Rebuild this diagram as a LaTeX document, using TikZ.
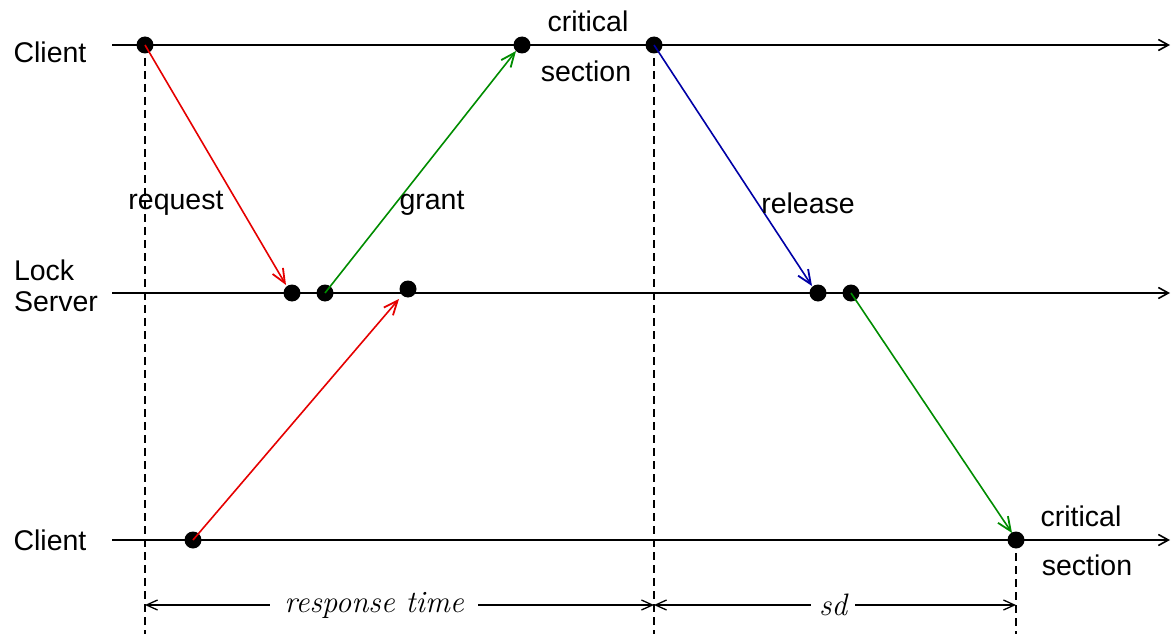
\documentclass[tikz,border=0pt]{standalone}
\usepackage{fontspec}
\setmainfont{Liberation Sans}
\newfontfamily\lmit{Latin Modern Roman}
\usetikzlibrary{arrows.meta}
\begin{document}
\begin{tikzpicture}[x=1pt,y=-1pt,
  axis/.style={line width=1.6pt,-{Straight Barb[length=10pt,width=11pt]}},
  dot/.style={circle,fill=black,inner sep=0pt,minimum size=17pt},
  msg/.style={line width=1.6pt,-{Straight Barb[length=14pt,width=12pt,line width=1.8pt]}},
  lbl/.style={font=\fontsize{28.5}{32}\selectfont,inner sep=0pt},
  dim/.style={line width=1.3pt,{Straight Barb[length=11pt,width=10pt]}-{Straight Barb[length=11pt,width=10pt]}},
  vdash/.style={line width=1.3pt,dash pattern=on 8pt off 5pt},
  dimlbl/.style={font=\lmit\itshape\fontsize{31}{34}\selectfont,fill=white,inner xsep=14pt,inner ysep=3pt}]
\useasboundingbox (0,0) rectangle (1171,634);
% axes
\coordinate (c1l) at (112,45); \coordinate (c1r) at (1170,45);
\coordinate (lsl) at (112,293); \coordinate (lsr) at (1170,293);
\coordinate (c2l) at (112,540); \coordinate (c2r) at (1170,540);
\draw[axis] (c1l) -- (c1r);
\draw[axis] (lsl) -- (lsr);
\draw[axis] (c2l) -- (c2r);
% dots
\node[dot] (a1) at (145,45) {};
\node[dot] (a2) at (522,45) {};
\node[dot] (a3) at (654,45) {};
\node[dot] (b1) at (292,293) {};
\node[dot] (b2) at (325,293) {};
\node[dot] (b3) at (408,289) {};
\node[dot] (b4) at (818,293) {};
\node[dot] (b5) at (851,293) {};
\node[dot] (d1) at (193,540) {};
\node[dot] (d2) at (1016,540) {};
% dashed verticals
\coordinate (v1) at (145,634); \coordinate (v2) at (654,634); \coordinate (v3) at (1016,634);
\draw[vdash] (a1.center) -- (v1);
\draw[vdash] (a3.center) -- (v2);
\draw[vdash] (d2.center) -- (v3);
% messages
\draw[msg,red!90!black] (a1.center) -- ([shift={(-6,-8)}]b1.center);
\draw[msg,green!55!black] (b2.center) -- ([shift={(-6,6)}]a2.center);
\draw[msg,blue!65!black] (a3.center) -- ([shift={(-6,-7)}]b4.center);
\draw[msg,green!55!black] (b5.center) -- ([shift={(-4,-7)}]d2.center);
\draw[msg,red!90!black] (d1.center) -- ([shift={(-9,10)}]b3.center);
% labels
\node[lbl] (t1) at (50,52) {Client};
\node[lbl,align=left,text width=90pt] (t2) at (59,286) {Lock\\[-1pt]Server};
\node[lbl] (t3) at (50,540) {Client};
\node[lbl] (l1) at (176,203) {request};
\node[lbl] (l2) at (432,203) {grant};
\node[lbl] (l3) at (808,203) {release};
\node[lbl] (l4) at (588,21) {critical};
\node[lbl] (l5) at (586,71) {section};
\node[lbl] (l6) at (1081,516) {critical};
\node[lbl] (l7) at (1087,565) {section};
% dimension lines
\coordinate (r1) at (145,605); \coordinate (r2) at (654,605); \coordinate (r3) at (1016,605);
\draw[dim] (r1) -- node[dimlbl,pos=0.45] (rt) {response time} (r2);
\draw[dim] (r2) -- node[dimlbl,pos=0.495,inner xsep=8pt] (sd) {sd} (r3);
\end{tikzpicture}
\end{document}
